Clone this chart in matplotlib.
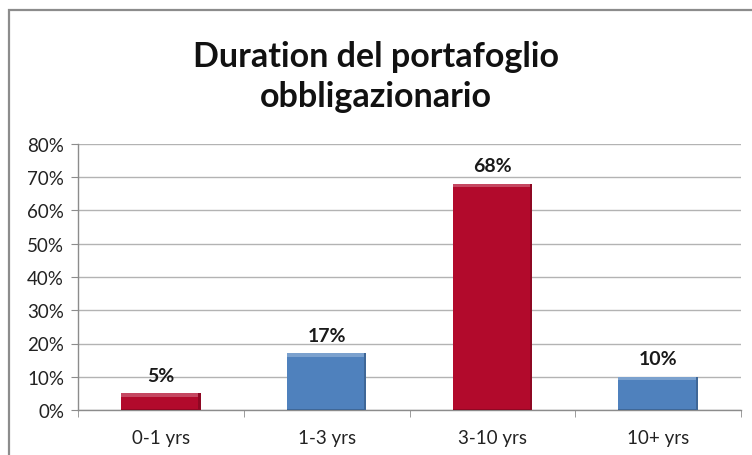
import matplotlib
matplotlib.use("Agg")
import matplotlib.pyplot as plt
import numpy as np
from matplotlib.patches import Rectangle
from matplotlib.ticker import MultipleLocator, FuncFormatter, FixedLocator

categories = ["0-1 yrs", "1-3 yrs", "3-10 yrs", "10+ yrs"]
values = [0.05, 0.17, 0.68, 0.10]
labels = ["5%", "17%", "68%", "10%"]
title = "Duration del portafoglio\nobbligazionario"

red = "#B20A2C"
blue = "#4F81BD"
colors = [red, blue, red, blue]

plt.rcParams['font.family'] = ['Lato', 'DejaVu Sans']

fig = plt.figure(figsize=(7.52, 4.56), dpi=100)
fig.patch.set_facecolor("white")

# chart border (top/left visible only, cropped)
fig.add_artist(Rectangle((9/752, -0.1), 1.2, 1 - 11/456 + 0.1, transform=fig.transFigure,
                         fill=False, edgecolor="#8c8c8c", linewidth=1.6))

ax = fig.add_axes([78/752, 1 - 411/456, (741 - 78)/752, (411 - 145)/456])
x = np.arange(len(categories))
bars = ax.bar(x, values, width=0.48, color=colors, edgecolor="none", zorder=3)

# subtle bevel-like shading
for b, c in zip(bars, colors):
    x0, y0 = b.get_x(), b.get_y()
    w, h = b.get_width(), b.get_height()
    base = np.array(matplotlib.colors.to_rgb(c))
    light = base + (1 - base) * 0.25
    dark = base * 0.8
    t = min(h * 0.3, 0.01)
    ax.add_patch(Rectangle((x0, y0 + h - t), w, t,
                           facecolor=light, edgecolor="none", zorder=4))
    ax.add_patch(Rectangle((x0 + w * 0.97, y0), w * 0.03, h, facecolor=dark, edgecolor="none", zorder=4))
    ax.add_patch(Rectangle((x0, y0), w, min(h, 0.004), facecolor=dark, edgecolor="none", zorder=4))

for xi, v, lab in zip(x, values, labels):
    ax.annotate(lab, (xi, v), xytext=(0, 7), textcoords="offset points",
                ha="center", va="bottom", fontsize=14, fontweight="bold", color="#1a1a1a")

ax.set_xlim(-0.5, len(categories) - 0.5)
ax.set_ylim(0, 0.8)
ax.yaxis.set_major_locator(MultipleLocator(0.1))
ax.yaxis.set_major_formatter(FuncFormatter(lambda v, p: f"{v*100:.0f}%"))
ax.yaxis.grid(True, color="#b3b3b3", linewidth=1.0, zorder=0)
ax.set_axisbelow(True)
ax.set_xticks(x)
ax.set_xticklabels(categories)
ax.xaxis.set_minor_locator(FixedLocator(np.arange(-0.5, len(categories), 1.0)))
ax.tick_params(axis="x", which="major", length=0, pad=14, labelsize=13.5, colors="#222222")
ax.tick_params(axis="x", which="minor", length=5, color="#8c8c8c", direction="out")
ax.tick_params(axis="y", length=5, color="#8c8c8c", labelsize=13.5, colors="#222222", pad=5)
for s in ["top", "right"]:
    ax.spines[s].set_visible(False)
for s in ["left", "bottom"]:
    ax.spines[s].set_color("#8c8c8c")
    ax.spines[s].set_linewidth(1.0)

fig.text(376/752, 1 - 77/456, title, ha="center", va="center", fontsize=24.5,
         fontweight="bold", linespacing=1.3, color="#111111")

fig.savefig("out.png", dpi=100, facecolor="white")
